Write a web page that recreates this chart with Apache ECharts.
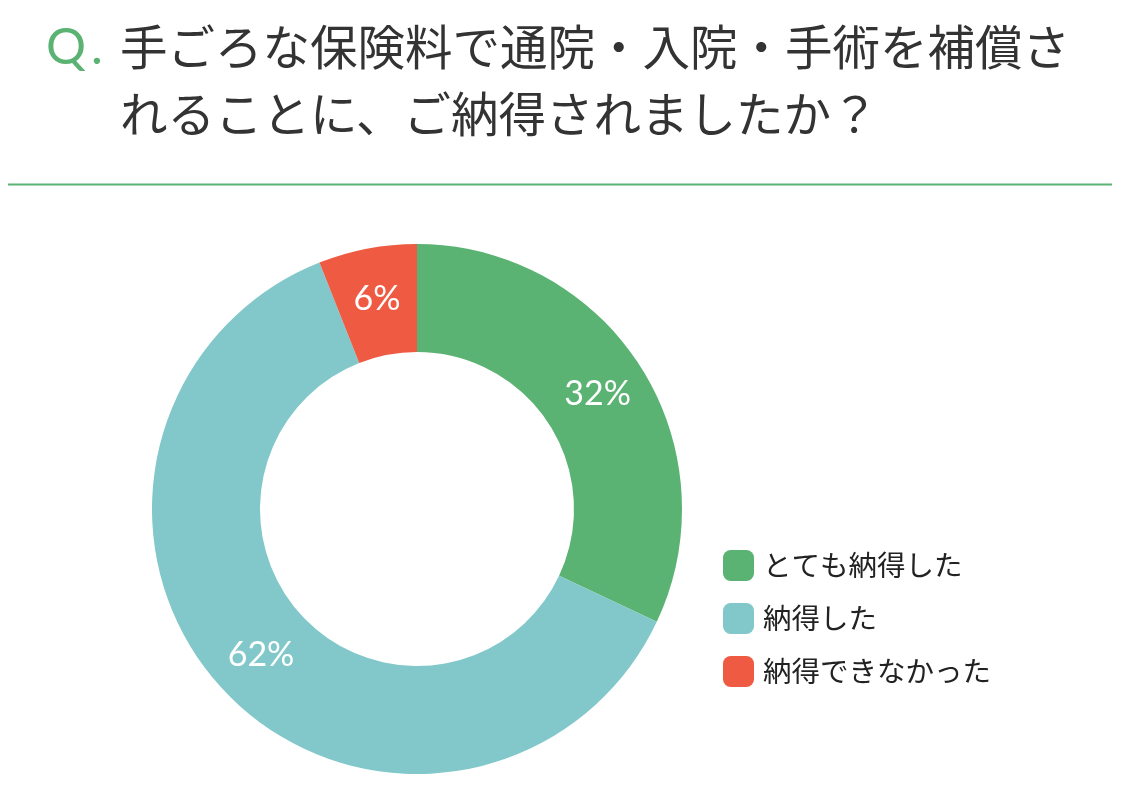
<!DOCTYPE html>
<html><head><meta charset="utf-8">
<script src="https://cdn.jsdelivr.net/npm/echarts@6/dist/echarts.min.js"></script>
<style>html,body{margin:0;padding:0;background:#fff}#c{width:1126px;height:799px}</style>
</head><body><div id="c"></div>
<script>
const categories = ['とても納得した', '納得した', '納得できなかった'];
const values = [32, 62, 6];
const colors = ['#5BB373', '#82C8CA', '#EF5A42'];
const titleLines = ['手ごろな保険料で通院・入院・手術を補償さ', 'れることに、ご納得されましたか？'];

const chart = echarts.init(document.getElementById('c'));
chart.setOption({
  animation: false,
  graphic: [
    { type: 'text', left: 46, top: 23, style: { text: 'Q', fill: '#5BB373', font: '50px Lato, "Noto Sans", sans-serif' } },
    { type: 'text', left: 91, top: 23, style: { text: '.', fill: '#5BB373', font: '50px Lato, "Noto Sans", sans-serif' } },
    { type: 'text', left: 120, top: 23, style: { text: titleLines[0], fill: '#333333', font: '47.5px "Noto Sans CJK JP", sans-serif' } },
    { type: 'text', left: 120, top: 90, style: { text: titleLines[1], fill: '#333333', font: '47.5px "Noto Sans CJK JP", sans-serif' } },
    { type: 'rect', shape: { x: 8, y: 183.5, width: 1104, height: 2 }, style: { fill: '#5BB373' } }
  ],
  legend: {
    orient: 'vertical',
    left: 723,
    top: 550,
    padding: 0,
    itemWidth: 31,
    itemHeight: 31,
    itemGap: 22,
    icon: 'roundRect',
    textStyle: { fontSize: 28.5, color: '#222', fontFamily: '"Noto Sans CJK JP", sans-serif', padding: [0, 0, 0, 4] },
    data: categories
  },
  series: [{
    type: 'pie',
    center: [417, 509],
    radius: [157, 265],
    startAngle: 90,
    clockwise: true,
    label: {
      show: true,
      position: 'inside',
      formatter: '{c}%',
      color: '#fff',
      fontSize: 34,
      fontFamily: 'Lato, "Noto Sans", sans-serif'
    },
    labelLine: { show: false },
    emphasis: { disabled: true },
    data: categories.map((n, i) => ({ name: n, value: values[i], itemStyle: { color: colors[i] } }))
  }]
});
</script></body></html>
